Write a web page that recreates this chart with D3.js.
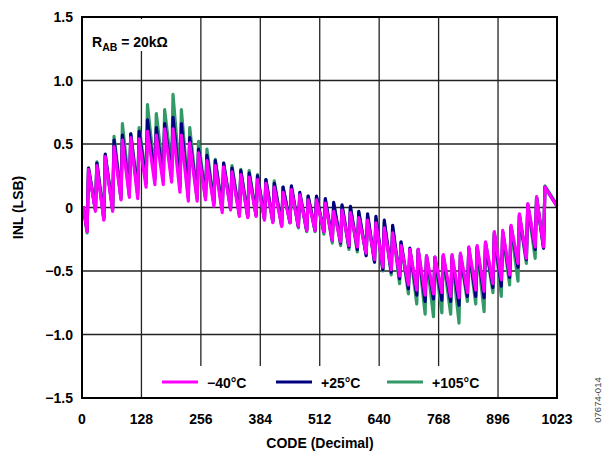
<!DOCTYPE html>
<html>
<head>
<meta charset="utf-8">
<script src="https://cdn.jsdelivr.net/npm/d3@7"></script>
<style>
  body { margin: 0; background: #fff; }
  svg text { font-family: "Liberation Sans", Arial, sans-serif; font-weight: bold; }
</style>
</head>
<body>
<svg width="604" height="452"></svg>
<script>
// Chart size
const width = 604;
const height = 452;
const margin = { top: 17, right: 47, bottom: 54, left: 82 };

// Tick labels
const xTicks = [0, 128, 256, 384, 512, 640, 768, 896, 1023];
const yTicks = [-1.5, -1.0, -0.5, 0, 0.5, 1.0, 1.5];

// Code where each tooth starts (bottom of the jump)
const toothCode = [11, 29, 47, 66, 84, 102, 120, 138, 157, 175, 193, 211, 229, 248, 266, 284, 302, 320, 339, 357,
  375, 393, 411, 430, 448, 466, 484, 502, 521, 539, 557, 575, 593, 612, 630, 648, 666, 684, 703, 721,
  739, 757, 775, 794, 812, 830, 848, 866, 885, 903, 921, 939, 957, 976, 994];

// -40°C
const lowM40 = [-0.19, -0.03, -0.10, -0.03, 0.06, 0.08, 0.07, 0.16, 0.18, 0.18, 0.20, 0.12, 0.05, 0.05, 0.06, 0.01, -0.04, -0.02, -0.07, -0.08,
  -0.07, -0.10, -0.12, -0.15, -0.12, -0.15, -0.18, -0.18, -0.19, -0.26, -0.27, -0.30, -0.31, -0.36, -0.41, -0.47, -0.49, -0.54, -0.61, -0.65,
  -0.69, -0.68, -0.67, -0.70, -0.71, -0.67, -0.65, -0.66, -0.60, -0.57, -0.53, -0.44, -0.40, -0.31, -0.31];
const highM40 = [0.30, 0.33, 0.40, 0.48, 0.53, 0.55, 0.54, 0.60, 0.57, 0.62, 0.62, 0.57, 0.51, 0.43, 0.37, 0.33, 0.32, 0.28, 0.26, 0.24,
  0.22, 0.19, 0.16, 0.12, 0.14, 0.10, 0.06, 0.06, 0.035, -0.03, -0.02, -0.04, -0.08, -0.10, -0.12, -0.16, -0.20, -0.30, -0.33, -0.33,
  -0.38, -0.39, -0.37, -0.37, -0.36, -0.31, -0.30, -0.27, -0.19, -0.18, -0.14, -0.05, 0.03, 0.085, 0.16];

// +25°C
const low25 = [-0.18, -0.02, -0.09, -0.02, 0.07, 0.10, 0.10, 0.19, 0.22, 0.22, 0.24, 0.16, 0.08, 0.07, 0.08, 0.03, -0.02, -0.01, -0.06, -0.07,
  -0.06, -0.09, -0.11, -0.14, -0.12, -0.15, -0.18, -0.18, -0.19, -0.26, -0.28, -0.31, -0.33, -0.38, -0.43, -0.49, -0.51, -0.56, -0.64, -0.69,
  -0.74, -0.72, -0.73, -0.74, -0.77, -0.70, -0.70, -0.71, -0.63, -0.62, -0.55, -0.47, -0.41, -0.33, -0.32];
const high25 = [0.31, 0.35, 0.42, 0.53, 0.57, 0.58, 0.60, 0.69, 0.63, 0.66, 0.71, 0.66, 0.55, 0.46, 0.41, 0.37, 0.35, 0.31, 0.29, 0.27,
  0.25, 0.22, 0.19, 0.16, 0.17, 0.12, 0.09, 0.09, 0.07, 0.04, 0.02, 0.01, -0.03, -0.05, -0.07, -0.10, -0.14, -0.27, -0.32, -0.33,
  -0.38, -0.39, -0.38, -0.38, -0.37, -0.32, -0.31, -0.28, -0.20, -0.19, -0.15, -0.06, 0.02, 0.08, 0.16];

// +105°C
const low105 = [-0.20, -0.02, -0.08, 0.00, 0.10, 0.14, 0.14, 0.24, 0.26, 0.27, 0.30, 0.22, 0.12, 0.09, 0.09, 0.04, -0.01, 0.00, -0.05, -0.07,
  -0.06, -0.09, -0.11, -0.14, -0.12, -0.16, -0.19, -0.19, -0.21, -0.28, -0.30, -0.33, -0.35, -0.37, -0.43, -0.50, -0.53, -0.60, -0.68, -0.76,
  -0.84, -0.86, -0.83, -0.84, -0.91, -0.74, -0.76, -0.82, -0.67, -0.70, -0.61, -0.58, -0.44, -0.40, -0.32];
const high105 = [0.31, 0.36, 0.41, 0.56, 0.66, 0.58, 0.63, 0.81, 0.74, 0.77, 0.89, 0.77, 0.63, 0.52, 0.46, 0.38, 0.35, 0.33, 0.30, 0.29,
  0.26, 0.22, 0.21, 0.16, 0.16, 0.10, 0.09, 0.08, 0.06, 0.03, 0.01, 0.00, -0.04, -0.07, -0.09, -0.12, -0.16, -0.28, -0.33, -0.34,
  -0.39, -0.40, -0.39, -0.39, -0.38, -0.33, -0.32, -0.29, -0.21, -0.20, -0.16, -0.07, 0.02, 0.08, 0.17];

const seriesNames = ["\u221240\u00b0C", "+25\u00b0C", "+105\u00b0C"];
const seriesColors = ["#ff00ff", "#000080", "#339966"];
const seriesLow = [lowM40, low25, low105];
const seriesHigh = [highM40, high25, high105];
const endValues = [0.01, 0.01, 0.02];

const svg = d3.select("svg");

const xScale = d3.scaleLinear()
  .domain([0, 1023])
  .range([margin.left, width - margin.right]);

const yScale = d3.scaleLinear()
  .domain([-1.5, 1.5])
  .range([height - margin.bottom, margin.top]);

// Grid
svg.append("g")
  .selectAll("line")
  .data(xTicks.slice(1, -1))
  .enter()
  .append("line")
  .attr("x1", d => xScale(d)).attr("x2", d => xScale(d))
  .attr("y1", yScale(1.5)).attr("y2", yScale(-1.5))
  .attr("stroke", "#222").attr("stroke-width", 1.3);

svg.append("g")
  .selectAll("line")
  .data(yTicks.slice(1, -1))
  .enter()
  .append("line")
  .attr("x1", xScale(0)).attr("x2", xScale(1023))
  .attr("y1", d => yScale(d)).attr("y2", d => yScale(d))
  .attr("stroke", "#222").attr("stroke-width", 1.3);

// Build a sawtooth path for each series from its lows and highs
function buildPoints(low, high, endV) {
  const pts = [[0, 0], [3, 0]];
  toothCode.forEach((c, i) => {
    pts.push([c, low[i]]);
    pts.push([c + 3, high[i]]);
  });
  pts.push([1023, endV]);
  return pts;
}

const line = d3.line()
  .x(d => xScale(d[0]))
  .y(d => yScale(d[1]));

// Draw +105 first, then +25, then -40 on top
[2, 1, 0].forEach(i => {
  svg.append("path")
    .datum(buildPoints(seriesLow[i], seriesHigh[i], endValues[i]))
    .attr("fill", "none")
    .attr("stroke", seriesColors[i])
    .attr("stroke-width", 3.2)
    .attr("stroke-linejoin", "round")
    .attr("d", line);
});

// R_AB label box
svg.append("rect")
  .attr("x", xScale(0) + 2).attr("y", yScale(1.5) + 2)
  .attr("width", 108).attr("height", 32)
  .attr("fill", "#fff");

const rLabel = svg.append("text")
  .attr("x", 92).attr("y", 47)
  .attr("font-size", 14);
rLabel.append("tspan").text("R");
rLabel.append("tspan").attr("font-size", 10.5).attr("dy", 4).text("AB");
rLabel.append("tspan").attr("dy", -4).text(" = 20k\u03a9");

// Legend
svg.append("rect")
  .attr("x", 152).attr("y", 366)
  .attr("width", 340).attr("height", 31)
  .attr("fill", "#fff");

const legendX = [162, 276, 387];
seriesNames.forEach((name, i) => {
  svg.append("line")
    .attr("x1", legendX[i]).attr("x2", legendX[i] + 36)
    .attr("y1", 382).attr("y2", 382)
    .attr("stroke", seriesColors[i]).attr("stroke-width", 3);
  svg.append("text")
    .attr("x", legendX[i] + 45).attr("y", 388)
    .attr("font-size", 14)
    .text(name);
});

// Plot frame
svg.append("rect")
  .attr("x", xScale(0)).attr("y", yScale(1.5))
  .attr("width", xScale(1023) - xScale(0))
  .attr("height", yScale(-1.5) - yScale(1.5))
  .attr("fill", "none").attr("stroke", "#000").attr("stroke-width", 2);

// Tick labels
svg.append("g")
  .selectAll("text")
  .data(xTicks)
  .enter()
  .append("text")
  .attr("x", d => xScale(d))
  .attr("y", 424)
  .attr("text-anchor", "middle")
  .attr("font-size", 14)
  .text(d => d);

svg.append("g")
  .selectAll("text")
  .data(yTicks)
  .enter()
  .append("text")
  .attr("x", 73)
  .attr("y", d => yScale(d) + 5)
  .attr("text-anchor", "end")
  .attr("font-size", 14)
  .text(d => d === 0 ? "0" : (d < 0 ? "\u2212" : "") + Math.abs(d).toFixed(1));

// Axis titles
svg.append("text")
  .attr("x", 320).attr("y", 448)
  .attr("text-anchor", "middle")
  .attr("font-size", 14)
  .text("CODE (Decimal)");

svg.append("text")
  .attr("transform", "translate(23," + yScale(0) + ") rotate(-90)")
  .attr("text-anchor", "middle")
  .attr("font-size", 14)
  .text("INL (LSB)");

// Figure code
svg.append("text")
  .attr("transform", "translate(601,400) rotate(-90)")
  .attr("text-anchor", "middle")
  .attr("font-size", 9.5)
  .attr("fill", "#444")
  .style("font-weight", "normal")
  .text("07674-014");
</script>
</body>
</html>
